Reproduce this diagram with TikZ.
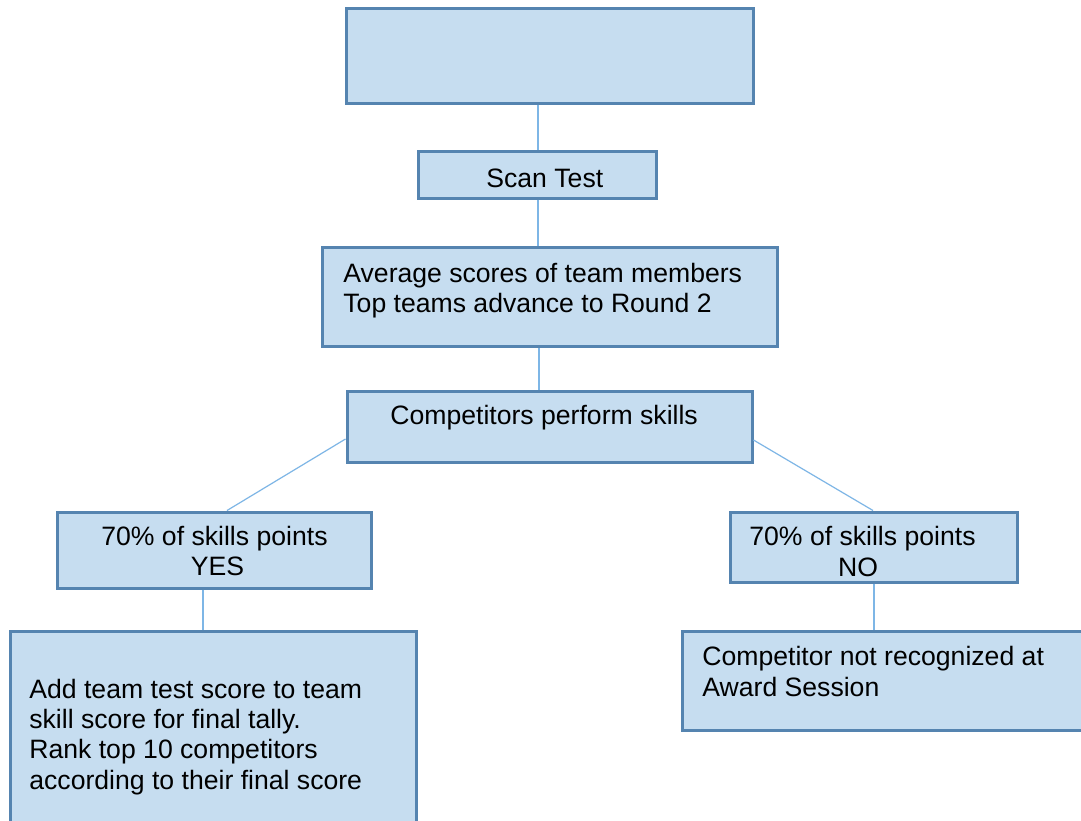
\documentclass[tikz,border=0pt]{standalone}
\usepackage{fontspec}
\setmainfont{Liberation Sans}
\definecolor{boxfill}{HTML}{C6DDF0}
\definecolor{boxline}{HTML}{5584B0}
\definecolor{linkline}{HTML}{7EB6E6}
\begin{document}
\begin{tikzpicture}[x=0.5pt,y=-0.5pt,
  box/.style={draw=boxline,fill=boxfill,line width=1.5pt,rectangle,inner sep=0pt},
  txt/.style={inner sep=0pt,font=\fontsize{13.3pt}{15.25pt}\selectfont,text=black},
  link/.style={draw=linkline,line width=0.6pt}]
\clip (0,0) rectangle (1081,820);
\fill[white] (0,0) rectangle (1081,820);
% boxes
\node[box,minimum width=203.5pt,minimum height=47.5pt] (top) at (549.5,55.5) {};
\node[box,minimum width=119pt,minimum height=23.5pt] (scan) at (537,174.5) {};
\node[box,minimum width=227.5pt,minimum height=49.5pt] (avg) at (550,297) {};
\node[box,minimum width=202.5pt,minimum height=35.5pt] (comp) at (549.5,426.5) {};
\node[box,minimum width=157pt,minimum height=38pt] (yes) at (214.5,550) {};
\node[box,minimum width=143.5pt,minimum height=35pt] (no) at (873.5,547) {};
\node[box,minimum width=203pt,minimum height=104.5pt] (bl) at (213,735.5) {};
\node[box,minimum width=209pt,minimum height=49.5pt] (br) at (891,680.5) {};
% connectors
\draw[link] (top.south -| 538,0) -- (scan.north -| 538,0);
\draw[link] (scan.south -| 538,0) -- (avg.north -| 538,0);
\draw[link] (avg.south -| 539,0) -- (comp.north -| 539,0);
\draw[link] (comp.west |- 0,439) -- (yes.north -| 227,0);
\draw[link] (comp.east |- 0,440) -- (no.north -| 873,0);
\draw[link] (yes.south -| 203,0) -- (bl.north -| 203,0);
\draw[link] (no.south -| 874,0) -- (br.north -| 874,0);
% texts
\node[txt,anchor=base west] (t1) at (486,187) {Scan Test};
\node[txt,anchor=base west] (t2) at (343,282) {Average scores of team members};
\node[txt,anchor=base west] (t3) at (343,312) {Top teams advance to Round 2};
\node[txt,anchor=base west] (t4) at (390,424) {Competitors perform skills};
\node[txt,anchor=base] (t5) at (214.5,545) {70\% of skills points};
\node[txt,anchor=base] (t6) at (217.5,575) {YES};
\node[txt,anchor=base] (t7) at (862.5,545) {70\% of skills points};
\node[txt,anchor=base] (t8) at (858,576) {NO};
\node[txt,anchor=base west] (t9) at (29,698) {Add team test score to team};
\node[txt,anchor=base west] (t10) at (29,728) {skill score for final tally.};
\node[txt,anchor=base west] (t11) at (29,758) {Rank top 10 competitors};
\node[txt,anchor=base west] (t12) at (29,789) {according to their final score};
\node[txt,anchor=base west] (t13) at (702,665) {Competitor not recognized at};
\node[txt,anchor=base west] (t14) at (702,696) {Award Session};
\end{tikzpicture}
\end{document}
